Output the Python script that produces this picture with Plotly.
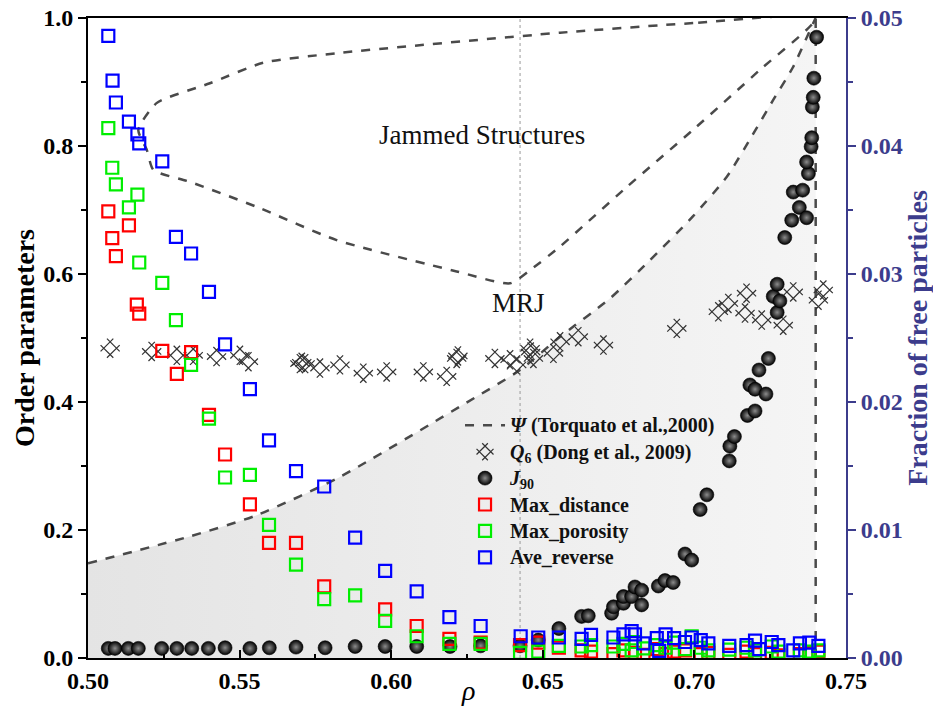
import plotly.graph_objects as go

# ---------------- data ----------------
# Psi (Torquato et al., 2000): lower boundary curve (MRJ line)
psi_rho = [0.500, 0.5336, 0.5556, 0.5831, 0.6227, 0.6425, 0.6557, 0.6722, 0.6850,
           0.6995, 0.7107, 0.7189, 0.7260, 0.7325, 0.7390, 0.7400]
psi_val = [0.148, 0.190, 0.223, 0.283, 0.393, 0.450, 0.502, 0.562, 0.620,
           0.690, 0.752, 0.815, 0.872, 0.923, 0.990, 1.000]

# Jammed structures boundary (closed loop)
jam_rho = [0.7400, 0.6996, 0.6557, 0.5820, 0.5578, 0.5402, 0.5226, 0.5166, 0.5194,
           0.5216, 0.5336, 0.5556, 0.5820, 0.6216, 0.6392, 0.6458, 0.6557, 0.6777,
           0.6995, 0.7216, 0.7400]
jam_val = [1.000, 0.992, 0.977, 0.945, 0.930, 0.898, 0.867, 0.825, 0.794,
           0.7625, 0.744, 0.705, 0.653, 0.604, 0.5855, 0.606, 0.643, 0.736,
           0.825, 0.919, 1.000]

RHO_MRJ = 0.6425
RHO_RCP = 0.74

# Q6 (Dong et al., 2009)
q6_rho = [0.5073, 0.5210, 0.5293, 0.5347, 0.5424, 0.5501, 0.5529, 0.5699, 0.5705, 0.5716,
          0.5765, 0.5831, 0.5908, 0.5985, 0.6106, 0.6183, 0.6216, 0.6220, 0.6342, 0.6392,
          0.6414, 0.6458, 0.6460, 0.6469, 0.6535, 0.6557, 0.6617, 0.6700, 0.6942, 0.7079,
          0.7112, 0.7172, 0.7167, 0.7222, 0.7293, 0.7326, 0.7409, 0.7425]
q6_val = [0.484, 0.479, 0.473, 0.473, 0.471, 0.473, 0.463, 0.460, 0.462, 0.460,
          0.453, 0.458, 0.445, 0.447, 0.447, 0.440, 0.468, 0.472, 0.468, 0.466,
          0.458, 0.484, 0.478, 0.468, 0.476, 0.494, 0.502, 0.489, 0.515, 0.541,
          0.554, 0.570, 0.539, 0.528, 0.520, 0.572, 0.559, 0.575]

# J90
j90_rho = [0.5067, 0.5089, 0.5133, 0.5166, 0.5243, 0.5293, 0.5342, 0.5397, 0.5452, 0.5534,
           0.5598, 0.5686, 0.5782, 0.5881, 0.5980, 0.6084, 0.6194, 0.6295, 0.6425, 0.6485,
           0.6553, 0.6628, 0.6650, 0.6727, 0.6733, 0.6766, 0.6766, 0.6793, 0.6804, 0.6826,
           0.6826, 0.6881, 0.6903, 0.6930, 0.6969, 0.6991, 0.7019, 0.7041, 0.7115, 0.7117,
           0.7132, 0.7175, 0.7200, 0.7183, 0.7200, 0.7236, 0.7213, 0.7244, 0.7273, 0.7260,
           0.7282, 0.7273, 0.7298, 0.7321, 0.7346, 0.7370, 0.7326, 0.7357, 0.7376, 0.7370,
           0.7385, 0.7387, 0.7389, 0.7392, 0.7394, 0.7403]
j90_val = [0.015, 0.015, 0.015, 0.015, 0.015, 0.015, 0.015, 0.015, 0.016, 0.015,
           0.016, 0.017, 0.016, 0.018, 0.018, 0.018, 0.018, 0.019, 0.019, 0.028,
           0.046, 0.065, 0.066, 0.070, 0.080, 0.0855, 0.096, 0.096, 0.111, 0.106,
           0.083, 0.1125, 0.121, 0.118, 0.1625, 0.153, 0.232, 0.255, 0.308, 0.331,
           0.346, 0.379, 0.386, 0.4266, 0.420, 0.4125, 0.450, 0.468, 0.540, 0.565,
           0.558, 0.584, 0.657, 0.684, 0.704, 0.688, 0.728, 0.731, 0.757, 0.775,
           0.799, 0.813, 0.861, 0.876, 0.906, 0.970]

# Fraction of free particles (right axis)
maxd_rho = [0.5067, 0.5080, 0.5092, 0.5135, 0.5161, 0.5169, 0.5245, 0.5293, 0.5340, 0.5399,
            0.5452, 0.5534, 0.5597, 0.5686, 0.5779, 0.5980, 0.6084, 0.6192, 0.6295, 0.6425,
            0.6485, 0.6553, 0.6628, 0.6659, 0.6733, 0.6766, 0.6804, 0.6832, 0.6876, 0.6905,
            0.6933, 0.6969, 0.7021, 0.7046, 0.7115, 0.7172, 0.7200, 0.7255, 0.7277, 0.7348,
            0.7379, 0.7409]
maxd_val = [0.0349, 0.0328, 0.0314, 0.0338, 0.0276, 0.0269, 0.0240, 0.0222, 0.0239, 0.0190,
            0.0159, 0.0120, 0.0090, 0.0090, 0.0056, 0.0038, 0.0025, 0.0015, 0.0012, 0.0010,
            0.0012, 0.0008, 0.0006, 0.0005, 0.0003, 0.0006, 0.0004, 0.00025, 0.0007, 0.0003,
            0.0005, 0.0006, 0.0003, 0.0004, 0.00025, 0.0005, 0.0003, 0.0004, 0.0002, 0.0003,
            0.0004, 0.0005]

maxp_rho = [0.5067, 0.5080, 0.5092, 0.5163, 0.5135, 0.5169, 0.5245, 0.5290, 0.5340, 0.5399,
            0.5452, 0.5534, 0.5597, 0.5686, 0.5779, 0.5881, 0.5980, 0.6084, 0.6192, 0.6295,
            0.6425, 0.6485, 0.6553, 0.6628, 0.6659, 0.6733, 0.6766, 0.6793, 0.6804, 0.6832,
            0.6876, 0.6905, 0.6933, 0.6969, 0.6991, 0.7021, 0.7046, 0.7115, 0.7172, 0.7200,
            0.7255, 0.7277, 0.7348, 0.7379, 0.7409]
maxp_val = [0.0414, 0.0383, 0.0370, 0.0362, 0.0352, 0.0309, 0.0293, 0.0264, 0.0229, 0.0187,
            0.0141, 0.0143, 0.0104, 0.0073, 0.0046, 0.0049, 0.0029, 0.0017, 0.0011, 0.0011,
            0.0004, 0.0005, 0.00095, 0.0009, 0.0010, 0.0009, 0.0011, 0.0006, 0.00125, 0.00075,
            0.0010, 0.0008, 0.0012, 0.0007, 0.0017, 0.0008, 0.0006, 0.00065, 0.0008, 0.0006,
            0.0009, 0.0005, 0.0006, 0.0005, 0.0006]

aver_rho = [0.5067, 0.5081, 0.5092, 0.5135, 0.5163, 0.5169, 0.5245, 0.5290, 0.5340, 0.5399,
            0.5452, 0.5534, 0.5597, 0.5686, 0.5779, 0.5881, 0.5980, 0.6084, 0.6192, 0.6295,
            0.6427, 0.6485, 0.6553, 0.6628, 0.6659, 0.6733, 0.6766, 0.6793, 0.6804, 0.6832,
            0.6876, 0.6905, 0.6933, 0.6884, 0.6969, 0.6991, 0.7021, 0.7046, 0.7115, 0.7172,
            0.7200, 0.7214, 0.7255, 0.7277, 0.7326, 0.7348, 0.7379, 0.7409]
aver_val = [0.0486, 0.0451, 0.0434, 0.0419, 0.0409, 0.0402, 0.0388, 0.0329, 0.0316, 0.0286,
            0.0245, 0.0210, 0.0170, 0.0146, 0.0134, 0.0094, 0.0068, 0.0052, 0.0032, 0.0025,
            0.0017, 0.0016, 0.0016, 0.0015, 0.0018, 0.0016, 0.00185, 0.0021, 0.00185, 0.00115,
            0.00155, 0.00185, 0.00155, 0.00055, 0.00125, 0.0016, 0.0014, 0.00115, 0.00095, 0.0010,
            0.00135, 0.0007, 0.00125, 0.0010, 0.0006, 0.00115, 0.0012, 0.00095]

# ---------------- styling ----------------
SERIF = "Liberation Serif"
AX2 = "#3c3c8c"
DASH = "#4a4a4a"
TICKSIZE = 24
TITLESIZE = 28


def big(txt):
    return '<span style="font-size:20px">' + txt + '</span>'


fig = go.Figure()

# shaded region under Psi curve
fig.add_trace(go.Scatter(
    x=psi_rho, y=psi_val,
    mode="lines", line=dict(width=0, shape="spline", smoothing=0.6), fill="tozeroy",
    fillgradient=dict(type="horizontal",
                      colorscale=[[0, "#e4e4e4"], [1, "#f5f5f5"]]),
    hoverinfo="skip", showlegend=False))

# dotted MRJ line
fig.add_trace(go.Scatter(x=[RHO_MRJ, RHO_MRJ], y=[0, 1], mode="lines",
                         line=dict(color="#9a9a9a", width=1, dash="dot"),
                         showlegend=False, hoverinfo="skip"))

# jammed structures boundary
fig.add_trace(go.Scatter(x=jam_rho, y=jam_val, mode="lines",
                         line=dict(color=DASH, width=2.5, dash="dash", shape="spline", smoothing=0.6),
                         showlegend=False, hoverinfo="skip"))
# vertical RCP line
fig.add_trace(go.Scatter(x=[RHO_RCP, RHO_RCP], y=[0, 1], mode="lines",
                         line=dict(color=DASH, width=2.5, dash="dash"),
                         showlegend=False, hoverinfo="skip"))
# Psi curve
fig.add_trace(go.Scatter(x=psi_rho, y=psi_val, mode="lines",
                         name=big("<i>Ψ</i> (Torquato et al.,2000)"),
                         line=dict(color=DASH, width=2.5, dash="dash", shape="spline", smoothing=0.6)))

fig.add_trace(go.Scatter(x=q6_rho, y=q6_val, mode="markers",
                         name=big("<i>Q</i><sub>6</sub> (Dong et al., 2009)"),
                         marker=dict(symbol="hash-open", angle=45, size=18,
                                     color="#333333", line=dict(width=1.2, color="#333333"))))

fig.add_trace(go.Scatter(x=j90_rho, y=j90_val, mode="markers",
                         name=big("<i>J</i><sub>90</sub>"),
                         marker=dict(symbol="circle", size=14, color="#000000",
                                     gradient=dict(type="radial", color="#8c8c8c"),
                                     line=dict(width=0.6, color="#000000"))))

for rho, val, nm, col in [(maxd_rho, maxd_val, "Max_distance", "#ff0000"),
                          (maxp_rho, maxp_val, "Max_porosity", "#00ee00"),
                          (aver_rho, aver_val, "Ave_reverse", "#0000ff")]:
    fig.add_trace(go.Scatter(x=rho, y=val, mode="markers", name=big(nm), yaxis="y2",
                             marker=dict(symbol="square-open", size=12, color=col,
                                         line=dict(width=2.2, color=col))))

fig.add_annotation(x=0.6299, y=0.817, text="Jammed Structures", showarrow=False,
                   font=dict(family=SERIF, size=27, color="#111"))
fig.add_annotation(x=0.6421, y=0.555, text="MRJ", showarrow=False,
                   font=dict(family=SERIF, size=27, color="#111"))
# x-axis title placed as annotation to sit close to tick labels
fig.add_annotation(x=0.501, xref="paper", y=-0.05, yref="paper", yanchor="middle",
                   text="<i>ρ</i>", showarrow=False,
                   font=dict(family=SERIF, size=28, color="black"))

fig.update_layout(
    width=933, height=721,
    margin=dict(l=88, r=87, t=18, b=63),
    plot_bgcolor="white", paper_bgcolor="white",
    font=dict(family=SERIF, color="black"),
    showlegend=True,
    legend=dict(x=0.4908, y=0.392, xanchor="left", yanchor="top",
                bgcolor="rgba(0,0,0,0)", borderwidth=0,
                font=dict(family=SERIF, size=18, weight="bold", color="#111"),
                itemwidth=40, tracegroupgap=0),
    xaxis=dict(range=[0.5, 0.75], dtick=0.05, tick0=0.5, tickformat=".2f", automargin=False,
               ticks="inside", ticklen=8, tickwidth=2, tickcolor="black",
               minor=dict(ticks="inside", ticklen=4, dtick=0.025, tickwidth=1.5, tickcolor="black"),
               showline=True, linecolor="black", linewidth=2, mirror=True,
               showgrid=False, zeroline=False,
               tickfont=dict(family=SERIF, size=TICKSIZE, weight="bold")),
    yaxis=dict(range=[0, 1], dtick=0.2, tickformat=".1f", automargin=False,
               ticks="outside", ticklen=8, tickwidth=2, tickcolor="black",
               minor=dict(ticks="outside", ticklen=5, dtick=0.1, tickwidth=1.5, tickcolor="black"),
               showline=True, linecolor="black", linewidth=2,
               showgrid=False, zeroline=False,
               tickfont=dict(family=SERIF, size=TICKSIZE, weight="bold"),
               title=dict(text="Order parameters",
                          font=dict(family=SERIF, size=TITLESIZE, weight="bold"), standoff=0)),
    yaxis2=dict(range=[0, 0.05], dtick=0.01, tickformat=".2f", overlaying="y", side="right",
                automargin=False,
                ticks="outside", ticklen=8, tickwidth=2, tickcolor=AX2,
                minor=dict(ticks="outside", ticklen=5, dtick=0.005, tickwidth=1.5, tickcolor=AX2),
                showline=True, linecolor=AX2, linewidth=2,
                showgrid=False, zeroline=False,
                tickfont=dict(family=SERIF, size=TICKSIZE, weight="bold", color=AX2),
                title=dict(text="Fraction of free particles",
                           font=dict(family=SERIF, size=TITLESIZE, weight="bold", color=AX2),
                           standoff=0)),
)

fig.write_html("out.html")
